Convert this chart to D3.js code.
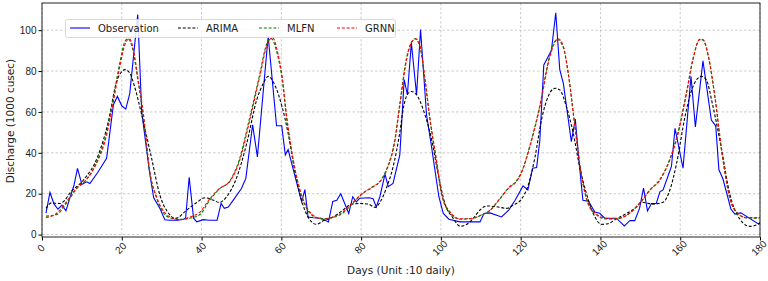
<!DOCTYPE html>
<html>
<head>
<script src="https://cdn.jsdelivr.net/npm/d3@7"></script>
<style>
    body{ margin:0; background:white; font-family:"DejaVu Sans", sans-serif; }
</style>
</head>
<body>
<div id="chart"></div>
<script>

// Observation as [day, discharge]
var observation = [[1,10.5],[2,20.6],[3,15],[4,12.4],[5,14.4],[6,11.6],[7,18],[8,24],[8.9,32.4],[10,24.5],[11.2,25.8],[12,25],[14,30.5],[16.2,37.3],[17.9,63.5],[18.9,67.6],[20,63],[21,61.4],[22,69],[24,107.7],[25,60],[26,45],[27,30],[28,18],[29.5,13],[30.8,7.2],[32,7],[34,7],[35.5,7.5],[36,8],[36.9,28],[38,8],[38.8,6.2],[40.4,7.3],[42,7],[43.9,7],[44.9,15.2],[45.7,12.8],[46.7,13.5],[48,17],[50,22.5],[51.1,27.5],[52.8,53.7],[54,38],[56.7,97],[58.8,53.2],[60.1,53.2],[61,39],[61.7,41.6],[63.5,28],[65.1,16],[65.9,22],[66.7,8.6],[68,8.2],[70,8],[71.8,6.2],[72.9,16.2],[73.9,16.8],[74.9,20],[76.9,10.3],[77.9,18.5],[78.8,16],[79.7,17.8],[82,18],[83,17.5],[83.8,13.5],[84.7,18.5],[86,29.6],[86.8,23.4],[88,25],[89.7,39],[90.8,75.8],[91.6,68.4],[92.6,93.8],[93.9,68.4],[94.9,100.3],[96.4,58.6],[97.5,45],[99.5,18.5],[100.6,10.3],[102,7.5],[104.8,6.2],[109.8,6.2],[110.8,10.3],[112.3,10.6],[115.2,8.6],[117,12],[118.6,16.8],[120.6,23.8],[121.8,21.8],[123,32.5],[124,32.8],[124.8,46],[125.8,83],[127.7,90],[128.8,108.5],[129.8,80.7],[130.7,74],[132.7,45.5],[133.7,56.5],[134.6,36.4],[135.6,16.8],[137,16.3],[138.6,11],[139.8,10.4],[141.1,8],[144,8],[146,4.2],[147.4,6.9],[148.6,6.8],[149.8,12.8],[150.8,22.7],[151.8,11.6],[152.8,15.2],[154,15.2],[154.9,20.9],[155.7,21.8],[157.1,29.5],[157.8,33.3],[158.7,52],[160.7,32.5],[162.7,77.4],[163.8,52.7],[165.7,85],[167.8,56],[168.9,53.2],[169.7,31.7],[170.7,27.3],[172.7,12.5],[173.7,10],[175.2,10.6],[179.6,5.2],[180,5.5]]

var arima = [[1,12.8],[2.4,15.5],[4.4,15.2],[5.6,16.5],[7,20.3],[10.4,26.7],[14.1,38.8],[16.6,55],[18.7,74.7],[20.8,80.7],[21.9,79.3],[23.2,72.5],[24.9,59.4],[27.4,38],[29.6,19],[31.5,11],[33.5,7.9],[36.3,12],[38.8,15.7],[40.9,18],[43,16.8],[44.4,15.7],[46.3,18.5],[48.8,27.9],[51.3,44.4],[53.8,65.7],[55.5,74],[56.7,77.4],[58.4,73],[60.2,62.4],[61.7,49.6],[63.8,26.7],[65.9,11.9],[67.6,6.2],[68.8,5],[70.5,6.7],[73,8.6],[75.5,12],[77.6,14.9],[79.7,15.2],[81.8,14.9],[83.5,13.3],[84.7,15.7],[86.4,23.1],[88,33],[89.7,50],[90.6,62],[91.6,68.5],[92.6,70],[93.9,68.4],[95.6,61],[97.7,46.2],[99.3,29.8],[101,15.2],[103.1,7.9],[104.8,4.1],[106.5,5],[108.1,7.9],[109.8,12],[111.5,14],[114,13.6],[116.5,12.8],[118.1,14.4],[120.3,17.6],[121.9,24.2],[123.6,38],[125.2,56],[126.9,67.6],[128.6,71.6],[129.8,70.8],[131.5,62.4],[133.2,49.4],[134.8,33],[136.5,20],[138.2,10.3],[140.3,5],[141.9,5.3],[144,7.7],[146.5,10.3],[148.6,12.8],[150.4,15.8],[153.2,14.9],[155.7,15.8],[157.4,21.8],[159.1,34.9],[161.2,57.7],[163.2,72.4],[165.3,77.4],[166.5,75.8],[168.2,62.8],[170.4,41.3],[172.4,20],[174.9,7.7],[177.4,4],[179.5,5],[180,6]]

var mlfn = [[1,9],[3.7,9.8],[6.2,15.5],[8.7,22.5],[11.2,27],[13.7,35.5],[16.2,50],[17.9,67],[19.5,84],[20.8,94.5],[21.5,95.8],[22.7,91],[24,76],[25.3,59],[27,30.5],[28.7,18],[30,12],[32.1,8.2],[34.6,7.4],[37.1,8],[39.6,9.8],[42.1,17],[44.6,22.5],[47.1,26.3],[49.6,37.5],[52.1,57.5],[54.6,78.5],[56.2,92.5],[57.4,96],[58.9,89],[60.2,76],[61.3,57],[63,35.5],[64.7,21],[66.3,13],[68,9],[70.5,7.8],[73,8.4],[75.5,10.6],[78,15.5],[80.5,20.2],[83,23.5],[84.7,26],[86.4,32],[88.5,47],[89.7,64],[91.4,86.5],[92.6,94],[93.5,95.8],[94.8,91.5],[96,75.5],[97.2,57],[98.9,35.5],[100.2,19.5],[102.3,10.5],[104.8,7.5],[107.3,7.8],[109.8,9.2],[112.3,11.8],[114.8,17.5],[117.3,23.5],[118.5,25.3],[120.3,31],[122.3,43.5],[124.8,63],[127.3,87.5],[129.1,95.5],[130.5,92.5],[131.9,79.5],[133.6,53],[135.3,28],[136.9,15],[139,9.6],[141.5,7.6],[144,7.8],[146.5,9.4],[148.6,12.8],[150.4,16.5],[152.4,21.8],[154.9,27],[157.4,37],[159.5,50.5],[161.6,70],[163.2,86],[164.9,95.5],[165.7,95.2],[167,87.5],[168.7,67],[170.4,40.5],[172.4,18],[174.5,10],[176.6,8.2],[179.5,8],[180,8.2]]

var grnn = [[1,8.3],[3.7,10.4],[6.2,16.2],[8.7,22.9],[11.2,27.1],[13.7,34.9],[16.2,48.7],[17.9,65.2],[19.5,82.3],[20.8,93],[21.9,95.8],[22.9,90.5],[24.1,75.8],[25.4,59.4],[27.1,30],[28.7,18.5],[30,12.8],[32.1,8.6],[34.6,7.2],[37.1,8.6],[39.6,11],[42.1,17.6],[44.6,22.7],[47.1,26],[49.6,36.6],[52.1,56.2],[54.6,77.4],[56.3,92.1],[57.8,96.3],[59.2,88],[60.2,77.4],[61.3,58.6],[63,36.4],[64.7,21.7],[66.3,13.5],[68,9.4],[70.5,7.5],[73,8.6],[75.5,11],[78,15.8],[80.5,20.4],[83,23.3],[84.7,25.8],[86.4,31.5],[88.5,46.2],[89.7,63],[91.4,85.6],[92.6,93.8],[93.7,95.8],[94.8,92.1],[96,76.5],[97.2,57.7],[98.9,36.4],[100.2,20],[102.3,11],[104.8,7.7],[107.3,7.7],[109.8,9.3],[112.3,11.9],[114.8,17.6],[117.3,23.3],[118.5,25],[120.3,30.7],[122.3,42.9],[124.8,62.4],[127.3,87],[129.4,95.8],[130.7,92.1],[131.9,79],[133.6,52.7],[135.3,28.3],[136.9,15.7],[139,10],[141.5,7.9],[144,7.7],[146.5,9.3],[148.6,12.6],[150.4,16.7],[152.4,21.7],[154.9,26.6],[157.4,36.6],[159.5,49.7],[161.6,69.2],[163.2,85.6],[164.9,95.4],[165.7,95.4],[167,88],[168.7,67.6],[170.4,41.3],[172.4,18.5],[174.5,10.3],[176.6,8.3],[179.5,8.3],[180,8.5]]

var xTicks = [0,20,40,60,80,100,120,140,160,180]
var yTicks = [0,20,40,60,80,100]
var seriesNames = ["Observation","ARIMA","MLFN","GRNN"]

var width = 768, height = 281
var mLeft = 42, mRight = 760, mTop = 3, mBottom = 237

var xScale = d3.scaleLinear().domain([0,180]).range([mLeft,mRight])
var yScale = d3.scaleLinear().domain([-1.2,113.3]).range([mBottom,mTop])

var svg = d3.select("#chart").append("svg")
    .attr("width",width).attr("height",height)
    .style("font-family","DejaVu Sans, sans-serif")

// grid
var grid = svg.append("g")
grid.selectAll(".gx").data(xTicks).enter().append("line")
    .attr("x1",d=>xScale(d)).attr("x2",d=>xScale(d))
    .attr("y1",mTop).attr("y2",mBottom)
grid.selectAll(".gy").data(yTicks).enter().append("line")
    .attr("x1",mLeft).attr("x2",mRight)
    .attr("y1",d=>yScale(d)).attr("y2",d=>yScale(d))
grid.selectAll("line")
    .attr("stroke","#b0b0b0").attr("stroke-width",0.8)
    .attr("stroke-dasharray","2.5,2").attr("opacity",0.8)

// axes
var xAxis = svg.append("g").attr("transform","translate(0,"+mBottom+")")
    .call(d3.axisBottom(xScale).tickValues(xTicks).tickSize(3.5).tickPadding(2).tickFormat(d3.format("d")))
xAxis.select(".domain").remove()
xAxis.selectAll("text")
    .attr("font-size",10).attr("fill","#222")
    .attr("text-anchor","middle")
    .attr("y",0).attr("dy","0.35em")
    .attr("transform","translate(-1.5,11) rotate(-45)")

var yAxis = svg.append("g").attr("transform","translate("+mLeft+",0)")
    .call(d3.axisLeft(yScale).tickValues(yTicks).tickSize(3.5).tickPadding(2))
yAxis.select(".domain").remove()
yAxis.selectAll("text").attr("font-size",10).attr("fill","#222")

// lines
svg.append("clipPath").attr("id","clip").append("rect")
    .attr("x",mLeft).attr("y",mTop).attr("width",mRight-mLeft).attr("height",mBottom-mTop)

var smooth = d3.line().x(d=>xScale(d[0])).y(d=>yScale(d[1])).curve(d3.curveMonotoneX)
var straight = d3.line().x(d=>xScale(d[0])).y(d=>yScale(d[1]))

var plot = svg.append("g").attr("clip-path","url(#clip)")
plot.append("path").attr("d",straight(observation))
    .attr("fill","none").attr("stroke","#0000ff").attr("stroke-width",1.1)
plot.append("path").attr("d",smooth(arima))
    .attr("fill","none").attr("stroke","black").attr("stroke-width",1.1).attr("stroke-dasharray","3,1.8")
plot.append("path").attr("d",smooth(mlfn))
    .attr("fill","none").attr("stroke","green").attr("stroke-width",1.1).attr("stroke-dasharray","3,1.8")
plot.append("path").attr("d",smooth(grnn))
    .attr("fill","none").attr("stroke","red").attr("stroke-width",1.1).attr("stroke-dasharray","3,1.8")

// frame
svg.append("rect").attr("x",mLeft).attr("y",mTop).attr("width",mRight-mLeft).attr("height",mBottom-mTop)
    .attr("fill","none").attr("stroke","#222").attr("stroke-width",1)

// legend
var legend = svg.append("g")
legend.append("rect").attr("x",65.5).attr("y",19.5).attr("width",330).attr("height",18).attr("rx",2)
    .attr("fill","white").attr("fill-opacity",0.85).attr("stroke","#d0d0d0").attr("stroke-width",0.8)
var legendX = [70,178,259,337]
var legendColor = ["#0000ff","black","green","red"]
seriesNames.forEach(function(n,i){
    legend.append("line").attr("x1",legendX[i]).attr("x2",legendX[i]+20).attr("y1",28).attr("y2",28)
        .attr("stroke",legendColor[i]).attr("stroke-width",1.1)
        .attr("stroke-dasharray",i==0?null:"3,1.8")
    legend.append("text").text(n).attr("x",legendX[i]+28).attr("y",28).attr("dy","0.35em")
        .attr("font-size",10).attr("fill","#222")
})

// axis labels
svg.append("text").text("Days (Unit :10 daily)")
    .attr("x",(mLeft+mRight)/2).attr("y",274).attr("text-anchor","middle")
    .attr("font-size",10.5).attr("fill","#222")
svg.append("text").text("Discharge (1000 cusec)")
    .attr("transform","translate(14,121) rotate(-90)").attr("text-anchor","middle")
    .attr("font-size",10.5).attr("fill","#222")

</script>
</body>
</html>
